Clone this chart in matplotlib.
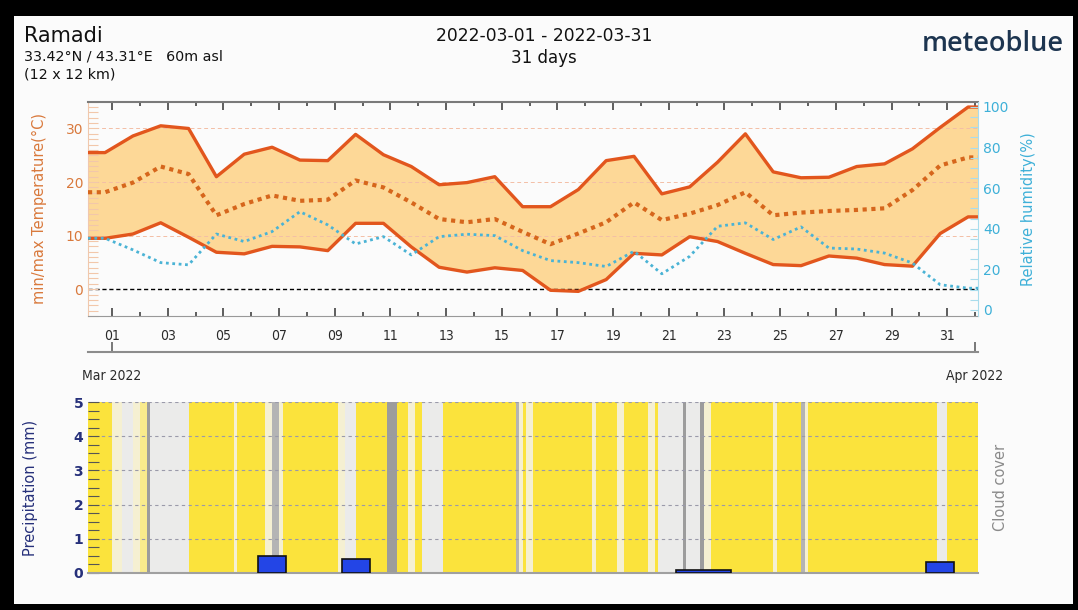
import numpy as np
import matplotlib
matplotlib.use("Agg")
import matplotlib.pyplot as plt
from matplotlib.patches import Rectangle
from matplotlib.ticker import MultipleLocator

# one value per day, first point sits 6 h before the 01 tick
t_max = [25.5, 28.6, 30.5, 30.0, 21.0, 25.2, 26.5, 24.1, 24.0, 28.9, 25.1, 22.9,
         19.5, 19.9, 21.0, 15.4, 15.4, 18.6, 24.0, 24.8, 17.8, 19.1, 23.7, 29.0,
         21.9, 20.8, 20.9, 22.9, 23.4, 26.2, 30.2, 34.0]
t_mean = [18.1, 19.9, 22.9, 21.5, 13.8, 15.9, 17.5, 16.5, 16.7, 20.3, 19.0, 16.2,
          13.1, 12.5, 13.1, 10.7, 8.4, 10.4, 12.5, 16.2, 12.9, 14.1, 15.7, 18.1,
          13.8, 14.3, 14.6, 14.8, 15.1, 18.5, 23.1, 24.6]
t_min = [9.5, 10.3, 12.4, 9.7, 6.9, 6.6, 8.0, 7.9, 7.2, 12.3, 12.3, 7.9,
         4.1, 3.2, 4.0, 3.5, -0.2, -0.4, 1.8, 6.7, 6.4, 9.8, 8.9, 6.7,
         4.6, 4.4, 6.2, 5.8, 4.6, 4.3, 10.4, 13.5]
humidity = [35.3, 29.6, 23.3, 22.2, 37.4, 33.7, 38.6, 48.4, 41.9, 32.5, 36.1, 27.1,
            36.1, 37.3, 36.6, 29.2, 24.3, 23.3, 21.4, 28.9, 17.8, 26.4, 41.2, 42.9,
            34.7, 40.9, 30.5, 30.0, 28.0, 23.1, 12.4, 10.7]
precip = [0, 0, 0, 0, 0, 0, 0.5, 0, 0, 0.4, 0, 0, 0, 0, 0, 0, 0, 0, 0, 0, 0,
          0.1, 0.1, 0, 0, 0, 0, 0, 0, 0, 0.33, 0]

# cloud cover, runs of 3-hour slots starting 28 Feb 00:00
# Y clear, y mostly clear, c few clouds, g cloudy, m / G overcast
cloud_runs = [('Y', 8), ('c', 3), ('g', 3), ('c', 2), ('y', 2), ('G', 1), ('g', 11),
              ('Y', 13), ('c', 1), ('Y', 8), ('c', 2), ('m', 2), ('c', 1), ('Y', 16),
              ('c', 2), ('g', 3), ('Y', 9), ('G', 3), ('Y', 3), ('c', 2), ('Y', 2),
              ('g', 6), ('Y', 21), ('m', 1), ('c', 1), ('Y', 1), ('c', 2), ('Y', 17),
              ('c', 1), ('Y', 6), ('c', 2), ('Y', 7), ('c', 2), ('Y', 1), ('g', 7),
              ('G', 1), ('g', 4), ('G', 1), ('c', 2), ('Y', 18), ('c', 1), ('Y', 7),
              ('m', 1), ('c', 1), ('Y', 37), ('g', 3), ('Y', 16)]
cloud_colors = {'Y': '#fbe33c', 'y': '#f9eb8c', 'c': '#f5f0d2', 'g': '#ebebea',
                'm': '#b4b4b4', 'G': '#9c9c9c'}

day_labels = ['01', '03', '05', '07', '09', '11', '13', '15', '17', '19', '21',
              '23', '25', '27', '29', '31']
month_labels = ['Mar 2022', 'Apr 2022']

W, H = 1078, 610
fig = plt.figure(figsize=(W / 100, H / 100), dpi=100)
fig.patch.set_facecolor('black')
fig.add_artist(Rectangle((14 / W, 6 / H), 1059 / W, 588 / H, transform=fig.transFigure,
                         facecolor='#fbfbfb', edgecolor='none', zorder=-5))

x = np.arange(len(t_max)) - 0.25
x0, x1 = -0.862, 31.106
xe = np.r_[x0, x, x1]


def ext(v):
    return np.r_[v[0], v, v[-1]]


def box(top, bottom):
    return [88 / W, 1 - bottom / H, 890 / W, (bottom - top) / H]


cond = dict(family='DejaVu Sans', fontstretch='condensed')

# temperature / humidity panel
ax = fig.add_axes(box(101.7, 316))
ax.set_facecolor('#fbfbfb')
ax.set_xlim(x0, x1)
ax.set_ylim(-5, 35)
ax.fill_between(xe, ext(t_min), ext(t_max), color='#fdd897', lw=0, zorder=1)
for v in (10, 20, 30):
    ax.axhline(v, color='#f3bfa6', ls=(0, (4, 3)), lw=0.7, zorder=1.2)
ax.axhline(0, color='black', ls=(0, (3, 2)), lw=1, zorder=1.3)
ax.plot(xe, ext(t_max), color='#e2561d', lw=2.4, zorder=3)
ax.plot(xe, ext(t_min), color='#e2561d', lw=2.4, zorder=3)
ax.plot(xe, ext(t_mean), color='#d6661c', lw=3, ls=(0, (1, 1.1)), zorder=3)

ax.set_xticks(np.arange(0, 31, 2))
ax.set_xticks(np.arange(1, 32, 2), minor=True)
ax.set_xticklabels(day_labels, fontsize=10, color='#2a2a2a', **cond)
ax.tick_params(axis='x', which='both', direction='in', top=True, bottom=True,
               color='#333333', width=1.1, pad=9)
ax.tick_params(axis='x', which='major', length=6)
ax.tick_params(axis='x', which='minor', length=3)
ax.set_yticks([0, 10, 20, 30])
ax.yaxis.set_minor_locator(MultipleLocator(1))
ax.tick_params(axis='y', which='both', direction='in', length=7, width=0.8,
               color='#f2c7aa', labelcolor='#d9793c', labelsize=10)
ax.set_ylabel('min/max Temperature(°C)', color='#d9793c', fontsize=10.5)
ax.yaxis.set_label_coords(-0.046, 0.5)
ax.spines['top'].set_color('#7a7a7a')
ax.spines['top'].set_linewidth(1.5)
ax.spines['bottom'].set_color('#999999')
ax.spines['left'].set_color('#f0c8ad')
ax.spines['right'].set_visible(False)

ax2 = ax.twinx()
ax2.set_ylim(-3, 102.6)
ax2.plot(xe, ext(humidity), color='#4ab3d5', lw=2, ls=(0, (1, 1.3)), zorder=4)
ax2.set_yticks(range(0, 101, 20))
ax2.yaxis.set_minor_locator(MultipleLocator(5))
ax2.tick_params(axis='y', which='both', direction='in', length=6, width=0.8,
                color='#a9dcec', labelcolor='#3eb0d8', labelsize=10)
ax2.set_ylabel('Relative humidity(%)', color='#3eb0d8', fontsize=10.5)
ax2.yaxis.set_label_coords(1.048, 0.5)
for s in ('top', 'bottom', 'left'):
    ax2.spines[s].set_visible(False)
ax2.spines['right'].set_color('#a9dcec')

# month axis
axm = fig.add_axes([88 / W, 1 - 352 / H, 890 / W, 0.0001])
axm.patch.set_visible(False)
axm.set_xlim(x0, x1)
for s in ('top', 'left', 'right'):
    axm.spines[s].set_visible(False)
axm.spines['bottom'].set_color('#8c8c8c')
axm.spines['bottom'].set_linewidth(1.5)
axm.set_yticks([])
axm.set_xticks([0, 31])
axm.set_xticklabels(month_labels, fontsize=10, color='#2a2a2a', **cond)
axm.tick_params(axis='x', direction='in', length=7, width=1.1, color='#555555', pad=12)

# precipitation / cloud cover panel
axp = fig.add_axes(box(402, 573))
axp.set_facecolor('#fbfbfb')
axp.set_xlim(x0, x1)
axp.set_ylim(0, 5)
t = -1.0
for code, n in cloud_runs:
    axp.axvspan(t, t + n / 8, color=cloud_colors[code], lw=0, zorder=0)
    t += n / 8

# consecutive wet days are drawn as one block
p = np.array(precip)
i = 0
while i < len(p):
    if p[i] > 0:
        j = i
        while j + 1 < len(p) and p[j + 1] > 0:
            j += 1
        axp.bar(x[i] - 0.5, p[i:j + 1].mean(), width=j - i + 1, align='edge',
                color='#2345e6', edgecolor='#111111', lw=1.2, zorder=3)
        i = j + 1
    else:
        i += 1

axp.set_yticks(range(6))
axp.yaxis.set_minor_locator(MultipleLocator(0.25))
axp.yaxis.grid(True, which='major', ls=(0, (3, 3)), color='#9a9aaa', lw=0.8)
axp.set_xticks([])
axp.tick_params(axis='y', which='both', direction='in', length=8, width=0.8,
                color='#555555', labelcolor='#26307a', labelsize=10)
for lab in axp.get_yticklabels():
    lab.set_fontweight('bold')
for s in ('top', 'right', 'left'):
    axp.spines[s].set_visible(False)
axp.spines['bottom'].set_color('#a0a0a0')
axp.spines['bottom'].set_linewidth(1.5)
axp.set_ylabel('Precipitation (mm)', color='#26307a', fontsize=10.5)
axp.yaxis.set_label_coords(-0.056, 0.5)
axp.text(1.025, 0.5, 'Cloud cover', transform=axp.transAxes, rotation=90,
         ha='center', va='center', color='#8a8a8a', fontsize=10.5)


# header
def px(xp, yp):
    return xp / W, 1 - yp / H


fig.text(*px(24, 42), 'Ramadi', fontsize=15, color='#111111', va='baseline')
fig.text(*px(24, 60), '33.42°N / 43.31°E   60m asl', fontsize=10.3, color='#111111',
         va='baseline')
fig.text(*px(24, 79), '(12 x 12 km)', fontsize=10.3, color='#111111', va='baseline')
fig.text(*px(544, 36), '2022-03-01 - 2022-03-31', fontsize=12.3, color='#111111',
         ha='center', va='center')
fig.text(*px(544, 58), '31 days', fontsize=12, color='#111111', ha='center', va='center')
fig.text(*px(1064, 44), 'meteoblue', fontsize=19.5, color='#1d3550', ha='right',
         va='center', family='Open Sans', fontweight='semibold')

fig.savefig('out.png', dpi=100)
